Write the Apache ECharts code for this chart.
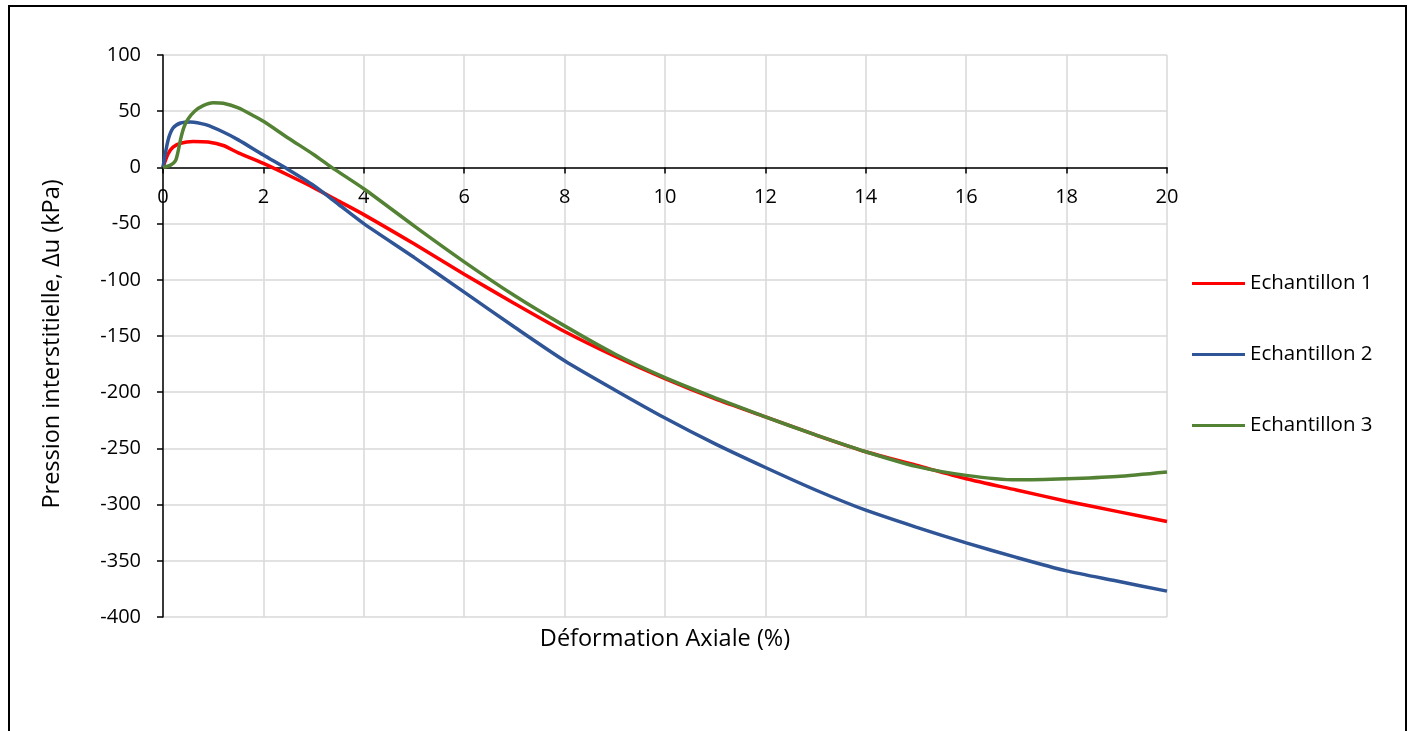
<!DOCTYPE html>
<html>
<head>
<meta charset="utf-8">
<script src="https://cdn.jsdelivr.net/npm/echarts@6/dist/echarts.min.js"></script>
<style>html,body{margin:0;padding:0;background:#fff;}#c{width:1411px;height:731px;}</style>
</head>
<body>
<div id="c"></div>
<script>
// Data: [axial strain %, pore pressure kPa]
var seriesNames = ['Echantillon 1', 'Echantillon 2', 'Echantillon 3'];
var ech1 = [
  [0,0],[0.1,12],[0.2,18],[0.35,21.5],[0.6,23],[0.9,22.5],[1.2,19.5],[1.5,13],[2.0,3.5],
  [2.5,-7],[3.0,-18],[3.5,-30],[4.0,-42],[5.0,-68],[6.0,-95],[7.0,-121],[8.0,-146],
  [9.0,-168],[10.0,-188],[11.0,-206],[12.0,-222],[13.0,-238],[14.0,-253],[15.0,-265],
  [16.0,-277],[17.0,-287],[18.0,-297],[19.0,-306],[20.0,-315]
];
var ech2 = [
  [0,0],[0.1,24],[0.2,35],[0.35,39.5],[0.55,40.5],[0.85,38],[1.2,31.5],[1.5,24.5],[2.0,11],
  [2.5,-2],[3.0,-16],[3.5,-33],[4.0,-50],[5.0,-80],[6.0,-111],[7.0,-142],[8.0,-172],
  [9.0,-198],[10.0,-223],[11.0,-246],[12.0,-267],[13.0,-287],[14.0,-305],[15.0,-320],
  [16.0,-334],[17.0,-347],[18.0,-359],[19.0,-368],[20.0,-377]
];
var ech3 = [
  [0,0],[0.15,2],[0.25,6],[0.3,14],[0.35,25],[0.42,36],[0.5,43],[0.63,50],[0.8,55],
  [1.0,57.5],[1.2,57],[1.5,53],[1.8,46],[2.0,41],[2.5,26],[3.0,11.5],[3.36,0],[4.0,-19],
  [5.0,-52],[6.0,-84],[7.0,-114],[8.0,-141],[9.0,-166],[10.0,-187],[11.0,-205],[12.0,-222],
  [13.0,-238],[14.0,-253],[15.0,-266],[16.0,-274],[17.0,-278],[18.0,-277],[19.0,-275],[20.0,-271]
];
var colors = ['#FF0000', '#2F5597', '#548235'];
var xName = 'Déformation Axiale (%)';
var yName = 'Pression interstitielle, Δu (kPa)';

var FONT = 'Open Sans';
var chart = echarts.init(document.getElementById('c'), null, {renderer: 'canvas'});
var datasets = [ech1, ech2, ech3];
chart.setOption({
  animation: false,
  backgroundColor: '#fff',
  textStyle: {fontFamily: FONT},
  graphic: [{
    type: 'rect', shape: {x: 9, y: 6, width: 1397, height: 800},
    style: {fill: 'none', stroke: '#000', lineWidth: 2}, silent: true, z: 100
  }],
  grid: {left: 163, right: 244, top: 55, bottom: 114, containLabel: false, outerBoundsMode: 'none'},
  legend: {
    orient: 'vertical', left: 1187, top: 268,
    itemWidth: 53, itemHeight: 3, itemGap: 50, icon: 'rect',
    textStyle: {fontFamily: FONT, fontSize: 20.5, color: '#000', lineHeight: 20},
    data: seriesNames
  },
  xAxis: {
    type: 'value', min: 0, max: 20, interval: 2,
    position: 'bottom', offset: -449.6,
    name: xName, nameLocation: 'middle', nameGap: 460,
    nameTextStyle: {fontFamily: FONT, fontSize: 23.5, color: '#000'},
    axisLine: {onZero: false, lineStyle: {color: '#000', width: 1.5}},
    axisTick: {show: true, inside: false, length: 6, lineStyle: {color: '#000', width: 1.5}},
    axisLabel: {fontFamily: FONT, fontSize: 20, color: '#000', margin: 20},
    splitLine: {show: true, lineStyle: {color: '#D9D9D9', width: 1.5}}
  },
  yAxis: {
    type: 'value', min: -400, max: 100, interval: 50,
    name: yName, nameLocation: 'middle', nameGap: 99,
    nameTextStyle: {fontFamily: FONT, fontSize: 23.5, color: '#000', padding: [0, 16, 0, 0]},
    axisLine: {show: true, onZero: false, lineStyle: {color: '#000', width: 1.5}},
    axisTick: {show: true, inside: false, length: 6, lineStyle: {color: '#000', width: 1.5}},
    axisLabel: {fontFamily: FONT, fontSize: 20, color: '#000', margin: 22},
    splitLine: {show: true, lineStyle: {color: '#D9D9D9', width: 1.5}}
  },
  series: datasets.map(function (d, i) {
    return {
      name: seriesNames[i], type: 'line', data: d, smooth: 0.25,
      showSymbol: false, symbol: 'none',
      lineStyle: {color: colors[i], width: 3.5},
      itemStyle: {color: colors[i]},
      z: 3 + (i === 1 ? 0 : i)
    };
  })
});
</script>
</body>
</html>
